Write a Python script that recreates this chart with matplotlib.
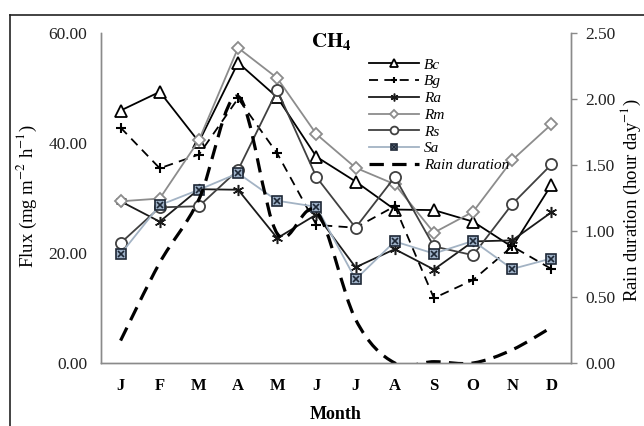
import matplotlib
matplotlib.use("Agg")
import matplotlib.pyplot as plt
from matplotlib.lines import Line2D
from matplotlib.path import Path
from matplotlib.patches import PathPatch
from matplotlib.legend_handler import HandlerTuple
import numpy as np

plt.rcParams["font.family"] = ["Liberation Serif", "DejaVu Serif"]
plt.rcParams["mathtext.fontset"] = "stix"

months = ["J", "F", "M", "A", "M", "J", "J", "A", "S", "O", "N", "D"]

bc = [45.9, 49.3, 40.2, 54.6, 48.3, 37.5, 33.0, 27.9, 27.8, 25.7, 21.1, 32.4]
bg = [42.8, 35.4, 37.9, 48.1, 38.1, 25.1, 24.6, 28.5, 11.8, 15.1, 21.2, 17.1]
ra = [29.4, 25.7, 31.6, 31.5, 22.7, 27.0, 17.4, 20.7, 17.0, 22.1, 22.3, 27.4]
rm = [29.4, 29.9, 40.5, 57.3, 51.8, 41.6, 35.5, 32.5, 23.7, 27.5, 36.9, 43.4]
rs = [21.8, 28.3, 28.5, 35.1, 49.6, 33.8, 24.6, 33.8, 21.2, 19.6, 28.9, 36.1]
sa = [19.8, 28.7, 31.5, 34.5, 29.5, 28.4, 15.2, 22.1, 19.9, 22.2, 17.1, 19.0]
rain = [0.17, 0.76, 1.24, 2.02, 0.98, 1.15, 0.33, 0.0, 0.01, 0.0, 0.10, 0.27]

flux_ticks = [0, 20, 40, 60]
rain_ticks = [0, 0.5, 1.0, 1.5, 2.0, 2.5]


def smooth_path(xs, ys):
    """Excel-like smoothed line as a cubic Bezier path through the points."""
    pts = np.column_stack([xs, ys]).astype(float)
    verts = [pts[0]]
    codes = [Path.MOVETO]
    n = len(pts)
    for i in range(n - 1):
        p0 = pts[max(i - 1, 0)]
        p1 = pts[i]
        p2 = pts[i + 1]
        p3 = pts[min(i + 2, n - 1)]
        verts += [p1 + (p2 - p0) / 6, p2 - (p3 - p1) / 6, p2]
        codes += [Path.CURVE4] * 3
    return Path(verts, codes)


fig = plt.figure(figsize=(6.44, 4.26), dpi=100)
ax1 = fig.add_axes([101 / 644, 63 / 426, 470 / 644, 330 / 426])
ax2 = ax1.twinx()

x = np.arange(len(months))
axis_grey = "#8a8a8a"

(l_bc,) = ax1.plot(x, bc, color="black", lw=1.3, marker="^", ms=8,
                   mfc="white", mec="black", mew=1.3)
(l_bg,) = ax1.plot(x, bg, color="black", lw=1.3, ls=(0, (5, 3.5)),
                   marker="+", ms=7, mew=1.5)
(l_ra,) = ax1.plot(x, ra, color="#1a1a1a", lw=1.3, marker=(6, 2, 0),
                   ms=8, mew=1.1)
(l_rm,) = ax1.plot(x, rm, color="#8c8c8c", lw=1.3, marker="D", ms=6.5,
                   mfc="white", mec="#8c8c8c", mew=1.3)
(l_rs,) = ax1.plot(x, rs, color="#404040", lw=1.3, marker="o", ms=8,
                   mfc="white", mec="#404040", mew=1.3)
(l_sa,) = ax1.plot(x, sa, color="#a3b3c4", lw=1.3, marker="s", ms=7,
                   mfc="#9db0c6", mec="#1e2836", mew=1.2)
(l_sax,) = ax1.plot(x, sa, ls="none", marker="x", ms=5, mec="#1e2836",
                    mew=1.2)

rain_patch = PathPatch(smooth_path(x, rain), fill=False, edgecolor="black",
                       lw=2.3, linestyle=(0, (4.5, 2.6)), capstyle="butt")
ax2.add_patch(rain_patch)
l_rain = Line2D([], [], color="black", lw=2.3, ls=(0, (4.5, 2.6)))

ax1.set_xlim(-0.5, len(months) - 0.5)
ax1.set_ylim(0, 60)
ax2.set_ylim(0, 2.5)

ax1.set_xticks(x)
ax1.set_xticklabels(months, fontsize=12, fontweight="bold")
ax1.tick_params(axis="x", length=0, pad=11)
ax1.set_yticks(flux_ticks)
ax1.set_yticklabels([f"{v:.2f}" for v in flux_ticks], fontsize=12.5,
                    color="#222222")
ax1.tick_params(axis="y", length=0, pad=10)
ax2.set_yticks(rain_ticks)
ax2.set_yticklabels([f"{v:.2f}" for v in rain_ticks], fontsize=12.5,
                    color="#222222")
ax2.tick_params(axis="y", length=4, width=1, color=axis_grey, pad=6)

for ax in (ax1, ax2):
    ax.spines["top"].set_visible(False)
    for side in ("left", "right", "bottom"):
        ax.spines[side].set_color(axis_grey)
        ax.spines[side].set_linewidth(1)

fig.text(331 / 644, 1 - 42 / 426, r"$\mathbf{CH_4}$", ha="center",
         va="center", fontsize=15)

fig.text(27 / 644, 1 - 196 / 426, r"Flux (mg m$^{-2}$ h$^{-1}$)",
         rotation=90, ha="center", va="center", fontsize=13.5)
fig.text(631 / 644, 1 - 200 / 426, r"Rain duration (hour day$^{-1}$)",
         rotation=90, ha="center", va="center", fontsize=13.5)
fig.text(336 / 644, 3 / 426, "Month", ha="center", va="bottom",
         fontsize=13, fontweight="bold")

ax2.legend(
    [l_bc, l_bg, l_ra, l_rm, l_rs, (l_sa, l_sax), l_rain],
    ["Bc", "Bg", "Ra", "Rm", "Rs", "Sa", "Rain duration"],
    handler_map={tuple: HandlerTuple(ndivide=1)},
    loc="upper left",
    bbox_to_anchor=(369 / 644, 1 - 58 / 426),
    bbox_transform=fig.transFigure,
    frameon=False,
    borderpad=0,
    borderaxespad=0,
    handlelength=3.3,
    handletextpad=0.3,
    labelspacing=0.2,
    markerscale=0.7,
    prop={"style": "italic", "size": 11},
)

frame_x = 10 / 644
frame_y = 1 - 15 / 426
fig.add_artist(Line2D([frame_x, frame_x], [0, frame_y], color="#222222",
                      lw=1.2, transform=fig.transFigure))
fig.add_artist(Line2D([frame_x, 1], [frame_y, frame_y], color="#222222",
                      lw=1.2, transform=fig.transFigure))

fig.savefig("out.png", dpi=100)
